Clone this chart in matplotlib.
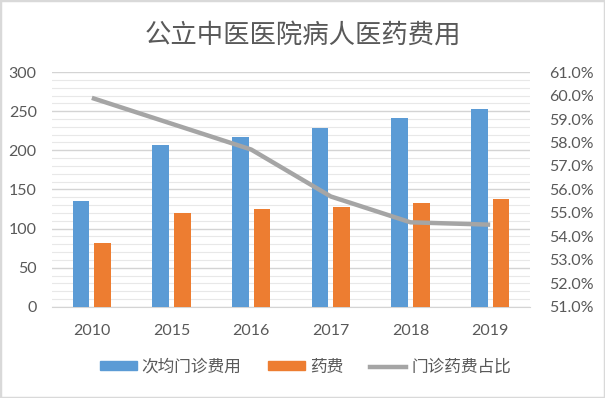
import matplotlib
matplotlib.use('Agg')
import matplotlib.pyplot as plt
from matplotlib.patches import Rectangle, Patch
from matplotlib.lines import Line2D
from matplotlib.ticker import MultipleLocator, FuncFormatter
import numpy as np

plt.rcParams['font.family'] = ['Noto Sans CJK SC', 'DejaVu Sans']

years = ['2010', '2015', '2016', '2017', '2018', '2019']
visit_cost = [135, 207, 217, 229, 241, 253]   # 次均门诊费用
drug_cost = [82, 120, 125, 128, 133, 138]      # 药费
drug_share = [59.9, 58.8, 57.7, 55.7, 54.6, 54.5]  # 门诊药费占比 (%)

blue = '#5b9bd5'
orange = '#ed7d31'
gray_line = '#a5a5a5'
text_col = '#595959'

fig = plt.figure(figsize=(6.05, 3.98), dpi=100)
ax = fig.add_axes([0.086, 0.229, 0.79, 0.590])
ax2 = ax.twinx()

x = np.arange(len(years))
w = 0.21
ax.bar(x - 0.135, visit_cost, w, color=blue, zorder=3)
ax.bar(x + 0.135, drug_cost, w, color=orange, zorder=3)

ax2.plot(x, [v / 100 for v in drug_share], color=gray_line, lw=3.2,
         solid_capstyle='butt', zorder=4)

ax.set_xlim(-0.5, len(years) - 0.5)
ax.set_ylim(0, 300)
ax.yaxis.set_major_locator(MultipleLocator(50))
ax.yaxis.set_minor_locator(MultipleLocator(10))
ax.grid(which='major', axis='y', color='#d4d4d4', lw=1.0, zorder=0)
ax.grid(which='minor', axis='y', color='#e8e8e8', lw=0.8, zorder=0)
ax.set_axisbelow(True)

ax2.set_ylim(0.51, 0.61)
ax2.yaxis.set_major_locator(MultipleLocator(0.01))
ax2.yaxis.set_major_formatter(FuncFormatter(lambda v, p: f'{v*100:.1f}%'))

for a in (ax, ax2):
    for s in a.spines.values():
        s.set_visible(False)
    a.tick_params(which='both', length=0, colors=text_col, labelsize=11.5)
ax.spines['bottom'].set_visible(True)
ax.spines['bottom'].set_color('#d4d4d4')

ax.set_xticks(x)
ax.set_xticklabels(years)
ax.tick_params(axis='x', pad=12)
ax.tick_params(axis='y', pad=11)
ax2.tick_params(axis='y', pad=14)
for lab in ax.get_xticklabels() + ax.get_yticklabels() + ax2.get_yticklabels():
    lab.set_family(['Lato', 'DejaVu Sans'])

fig.text(0.5, 0.912, '公立中医医院病人医药费用', ha='center', va='center',
         fontsize=19, color=text_col)

handles = [Patch(color=blue), Patch(color=orange),
           Line2D([], [], color=gray_line, lw=3.2)]
labels = ['次均门诊费用', '药费', '门诊药费占比']
fig.legend(handles, labels, loc='center', bbox_to_anchor=(0.505, 0.077), ncol=3,
           frameon=False, fontsize=12, handlelength=2.2, handleheight=0.45,
           handletextpad=0.3, columnspacing=1.6, labelcolor=text_col)

fig.patches.append(Rectangle((0, 0), 1, 1, transform=fig.transFigure,
                             fill=False, edgecolor='#d9d9d9', lw=2.5))

fig.savefig('out.png', dpi=100, facecolor='white')
